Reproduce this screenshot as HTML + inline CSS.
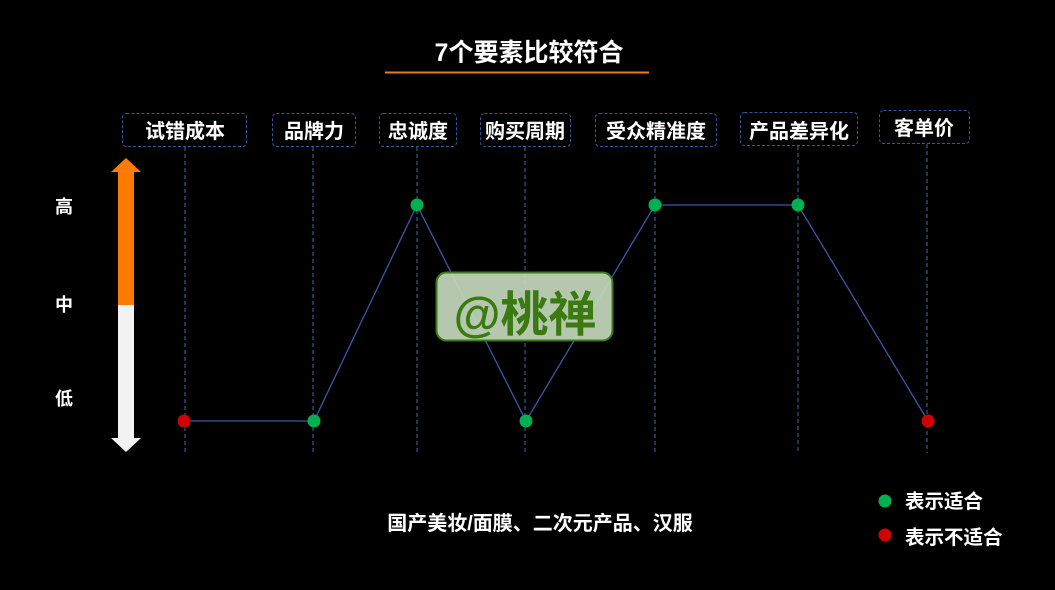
<!DOCTYPE html>
<html><head><meta charset="utf-8"><style>
html,body{margin:0;padding:0;background:#000;}
svg{display:block;font-family:"Liberation Sans","Noto Sans CJK SC",sans-serif;}
</style></head><body>
<svg width="1055" height="590" viewBox="0 0 1055 590" xmlns="http://www.w3.org/2000/svg">
<rect width="1055" height="590" fill="#000"/>
<text x="529" y="61" fill="#fff" font-size="25" font-weight="bold" text-anchor="middle">7个要素比较符合</text>
<line x1="385" y1="72.5" x2="649" y2="72.5" stroke="#f07a10" stroke-width="2"/>
<g fill="none" stroke="#2f5a9a" stroke-width="1" stroke-dasharray="3,2">
<rect x="122.5" y="113.5" width="124" height="33" rx="4"/>
<rect x="272.5" y="113.5" width="83" height="33" rx="4"/>
<rect x="379.5" y="113.5" width="77" height="33" rx="4"/>
<rect x="480.5" y="113.5" width="90" height="33" rx="4"/>
<rect x="595.5" y="113.5" width="121" height="33" rx="4"/>
<rect x="740.5" y="112.5" width="117" height="33" rx="4"/>
<rect x="879.5" y="110.5" width="90" height="33" rx="4"/>
</g>
<g fill="none" stroke="#3d6aa8" stroke-width="1" stroke-dasharray="4,3">
<line x1="185" y1="147" x2="185" y2="453"/>
<line x1="313" y1="147" x2="313" y2="453"/>
<line x1="417" y1="147" x2="417" y2="453"/>
<line x1="525" y1="147" x2="525" y2="453"/>
<line x1="655" y1="147" x2="655" y2="453"/>
<line x1="798" y1="146" x2="798" y2="453"/>
<line x1="927" y1="144" x2="927" y2="453"/>
</g>
<g fill="#fff" font-size="20" font-weight="bold" text-anchor="middle">
<text x="185" y="138">试错成本</text>
<text x="314" y="138">品牌力</text>
<text x="418" y="138">忠诚度</text>
<text x="525" y="138">购买周期</text>
<text x="656" y="138">受众精准度</text>
<text x="799" y="138">产品差异化</text>
<text x="924" y="135">客单价</text>
</g>
<polyline points="184,421 314,421 417,205 526,421 655,205 798,205 928,421" fill="none" stroke="#3858a8" stroke-width="1.3"/>
<g fill="#00b050">
<circle cx="314" cy="421" r="6.5"/><circle cx="417" cy="205" r="6.5"/><circle cx="526" cy="421" r="6.5"/><circle cx="655" cy="205" r="6.5"/><circle cx="798" cy="205" r="6.5"/>
</g>
<g fill="#d00000"><circle cx="184" cy="421" r="6.5"/><circle cx="928" cy="421" r="6.5"/></g>
<polygon points="126,158 141,172 134,172 134,305 118,305 118,172 111,172" fill="#ff7a00"/>
<polygon points="118,305 134,305 134,438 141,438 126,452 111,438 118,438" fill="#f2f2f2"/>
<g fill="#fff" font-size="18" font-weight="bold" text-anchor="middle">
<text x="64" y="213">高</text><text x="64" y="311">中</text><text x="64" y="405">低</text>
</g>
<rect x="436.5" y="272.5" width="176" height="68" rx="10" fill="#c4d8bc" fill-opacity="0.92" stroke="#3a7a1a" stroke-width="2"/>
<text x="525" y="331" fill="#3a7a10" font-size="48" font-weight="bold" text-anchor="middle">@桃禅</text>
<text x="540" y="530" fill="#fff" font-size="20" font-weight="bold" text-anchor="middle">国产美妆/面膜、二次元产品、汉服</text>
<circle cx="885" cy="501" r="6.5" fill="#00b050"/>
<circle cx="885" cy="535" r="6.5" fill="#d00000"/>
<g fill="#fff" font-size="19.5" font-weight="bold"><text x="905" y="508">表示适合</text><text x="905" y="544">表示不适合</text></g>
</svg>
</body></html>
